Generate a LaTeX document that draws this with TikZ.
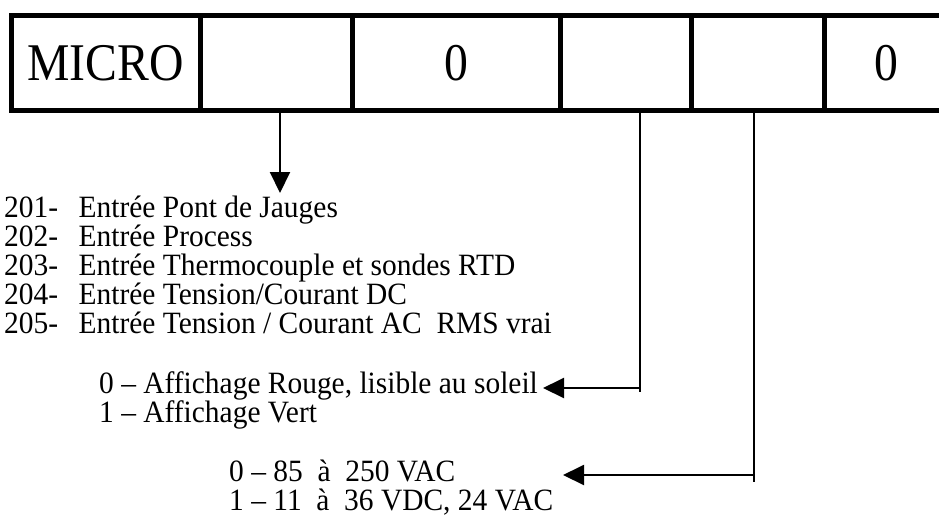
\documentclass[tikz,border=0pt]{standalone}
\usepackage{fontspec}
\setmainfont{Liberation Serif}[FakeStretch=0.9]
\newfontfamily\listfont{Liberation Serif}[FakeStretch=0.95]
\usetikzlibrary{arrows.meta}
\begin{document}
\begin{tikzpicture}[x=1pt,y=-1pt,
  cell/.style={draw,line width=5pt,rectangle,inner sep=0pt,outer sep=0pt,minimum height=95.5pt},
  big/.style={font=\fontsize{53}{53}\selectfont},
  txt/.style={font=\listfont\fontsize{31}{31}\selectfont,anchor=base west,inner sep=0pt},
  conn/.style={line width=2pt},
  tip/.style={conn,-{Triangle[length=21pt,width=20pt]}}
]
\useasboundingbox (0,0) rectangle (939,523);
\clip (0,0) rectangle (939,523);
% table cells
\node[cell,big,minimum width=189.5pt] (c1) at (105.75,62.75) {MICRO};
\node[cell,minimum width=151.5pt] (c2) at (276.25,62.75) {};
\node[cell,big,minimum width=208pt] (c3) at (456,62.75) {0};
\node[cell,minimum width=131.5pt] (c4) at (625.75,62.75) {};
\node[cell,minimum width=133pt] (c5) at (758,62.75) {};
\node[cell,big,minimum width=123pt] (c6) at (886,62.75) {0};
% list of inputs
\node[txt] (n1) at (4,217.5) {201-};
\node[txt] (l1) at (78.5,217.5) {Entrée Pont de Jauges};
\node[txt] (n2) at (4,246.5) {202-};
\node[txt] (l2) at (78.5,246.5) {Entrée Process};
\node[txt] (n3) at (4,275.5) {203-};
\node[txt] (l3) at (78.5,275.5) {Entrée Thermocouple et sondes RTD};
\node[txt] (n4) at (4,304.5) {204-};
\node[txt] (l4) at (78.5,304.5) {Entrée Tension/Courant DC};
\node[txt] (n5) at (4,333.5) {205-};
\node[txt] (l5) at (78.5,333.5) {Entrée Tension / Courant AC~ RMS vrai};
% display colour
\node[txt] (d0) at (99,393.5) {0 – Affichage Rouge, lisible au soleil};
\node[txt] (d1) at (99,422.5) {1 – Affichage Vert};
% supply
\node[txt] (s0) at (229,481.5) {0 – 85~ à~ 250 VAC};
\node[txt] (s1) at (229,510.5) {1 – 11~ à~ 36 VDC, 24 VAC};
% connectors
\coordinate (t1) at (280,193);
\draw[tip] (c2.south -| t1) -- (t1);
\coordinate (k1) at (640,388);
\coordinate (k1e) at (640,392);
\coordinate (t2) at (543,388);
\draw[conn] (c4.south -| k1) -- (k1e);
\draw[tip] (k1) -- (t2);
\coordinate (k2) at (754,475);
\coordinate (k2e) at (754,482);
\coordinate (t3) at (563,475);
\draw[conn] (c5.south -| k2) -- (k2e);
\draw[tip] (k2) -- (t3);
\end{tikzpicture}
\end{document}
